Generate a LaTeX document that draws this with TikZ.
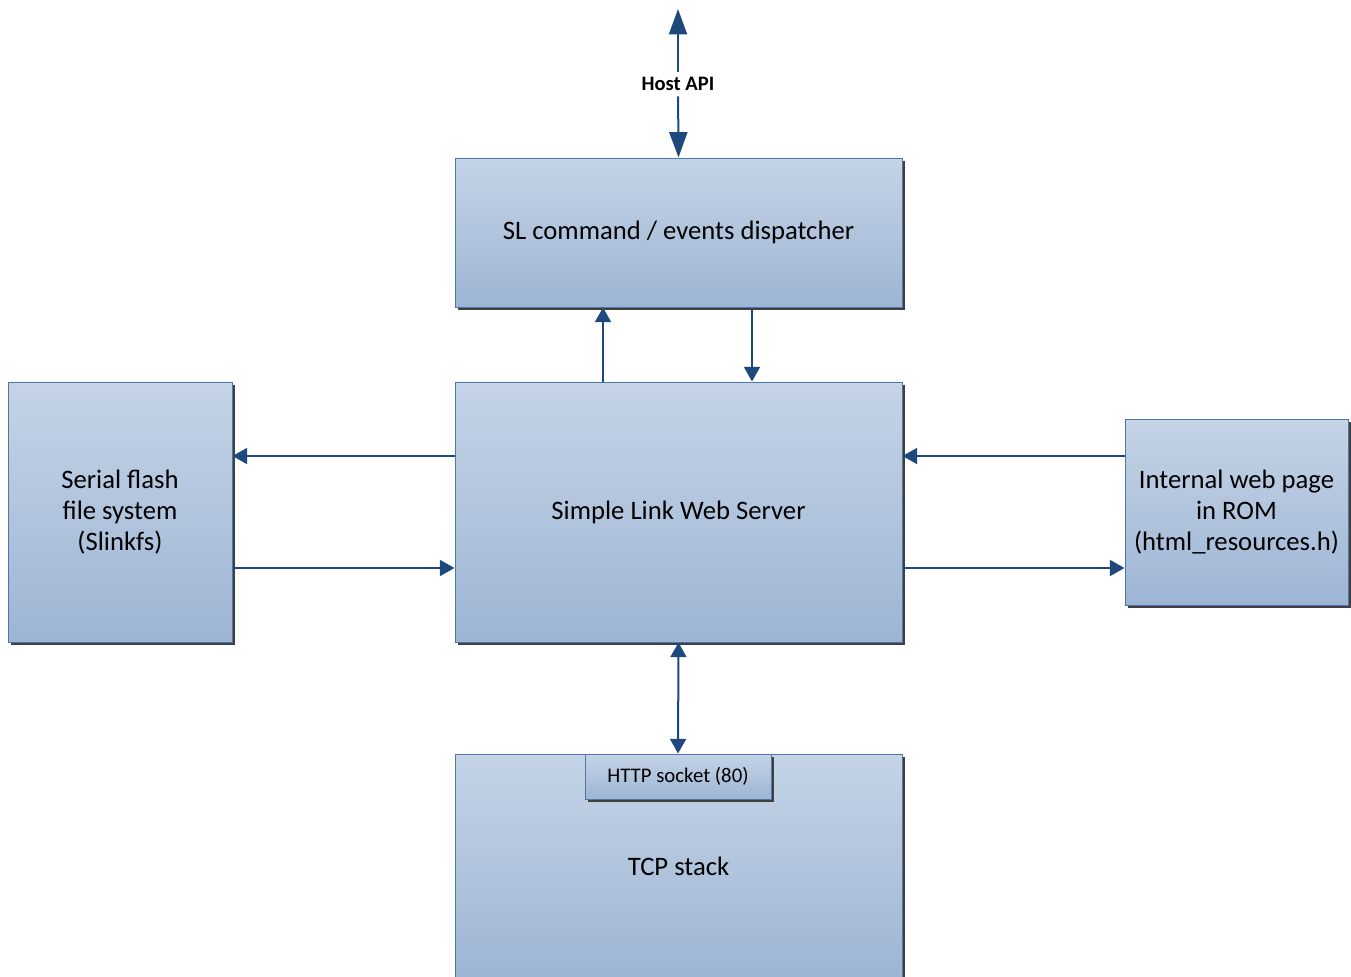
\documentclass[tikz,border=0pt]{standalone}
\usepackage{fontspec}
\setmainfont{Carlito}
\usepackage{tikz}
\usetikzlibrary{arrows.meta,shadows}

\definecolor{boxtop}{RGB}{197,212,230}
\definecolor{boxbot}{RGB}{157,181,212}
\definecolor{boxline}{RGB}{79,117,170}
\definecolor{flowc}{RGB}{31,73,125}

\tikzset{
  blk/.style={draw=boxline, line width=0.75pt, top color=boxtop, bottom color=boxbot,
    drop shadow={shadow xshift=2.25pt, shadow yshift=-2.25pt, fill=black!75, opacity=1},
    align=center, inner sep=0pt, font=\fontsize{20}{23.3}\selectfont},
  flow/.style={draw=flowc, line width=1.5pt, -{Triangle[length=11pt,width=12pt]}},
  bigtip/.style={-{Triangle[length=19pt,width=13.5pt]}},
}

\begin{document}
\begin{tikzpicture}[x=0.75pt,y=0.75pt,yscale=-1,xscale=1]
\useasboundingbox (0,0) rectangle (1351,976);

% Blocks
\node[blk, minimum width=335.25pt, minimum height=111.75pt] (disp) at (678.5,232.5) {SL command / events dispatcher};
\node[blk, minimum width=335.25pt, minimum height=195pt] (srv) at (678.5,512) {Simple Link Web Server};
\node[blk, minimum width=168pt, minimum height=195pt] (ser) at (120,512) {Serial flash\\file system\\(Slinkfs)};
\node[blk, minimum width=167.25pt, minimum height=139.5pt] (web) at (1236.5,512) {Internal web page\\in ROM\\(html\_resources.h)};
\node[blk, minimum width=335.25pt, minimum height=168pt] (tcp) at (678.5,866) {TCP stack};
\node[blk, font=\fontsize{15.6}{18}\selectfont, minimum width=139.5pt, minimum height=33.75pt] (sock) at (678,776.5) {HTTP socket (80)};

% Host API
\node[font=\bfseries\fontsize{15.4}{18}\selectfont, inner sep=4pt] (api) at (678,84) {Host API};
\coordinate (hosttop) at (678,9);
\draw[flow, bigtip] (api) -- (hosttop);
\draw[flow, bigtip] (api) -- (disp.north);

% Lanes
\coordinate (up) at (603,0);
\coordinate (down) at (752,0);
\coordinate (lane1) at (0,456);
\coordinate (lane2) at (0,568);

%Straight Lines
\draw[flow] (srv.north -| up) -- (disp.south -| up);
\draw[flow] (disp.south -| down) -- (srv.north -| down);
\draw[flow] (srv.west |- lane1) -- (ser.east |- lane1);
\draw[flow] (ser.east |- lane2) -- (srv.west |- lane2);
\draw[flow] (web.west |- lane1) -- (srv.east |- lane1);
\draw[flow] (srv.east |- lane2) -- (web.west |- lane2);
\draw[flow, {Triangle[length=11pt,width=12pt]}-{Triangle[length=11pt,width=12pt]}] (srv.south) -- (sock.north);

\end{tikzpicture}
\end{document}
